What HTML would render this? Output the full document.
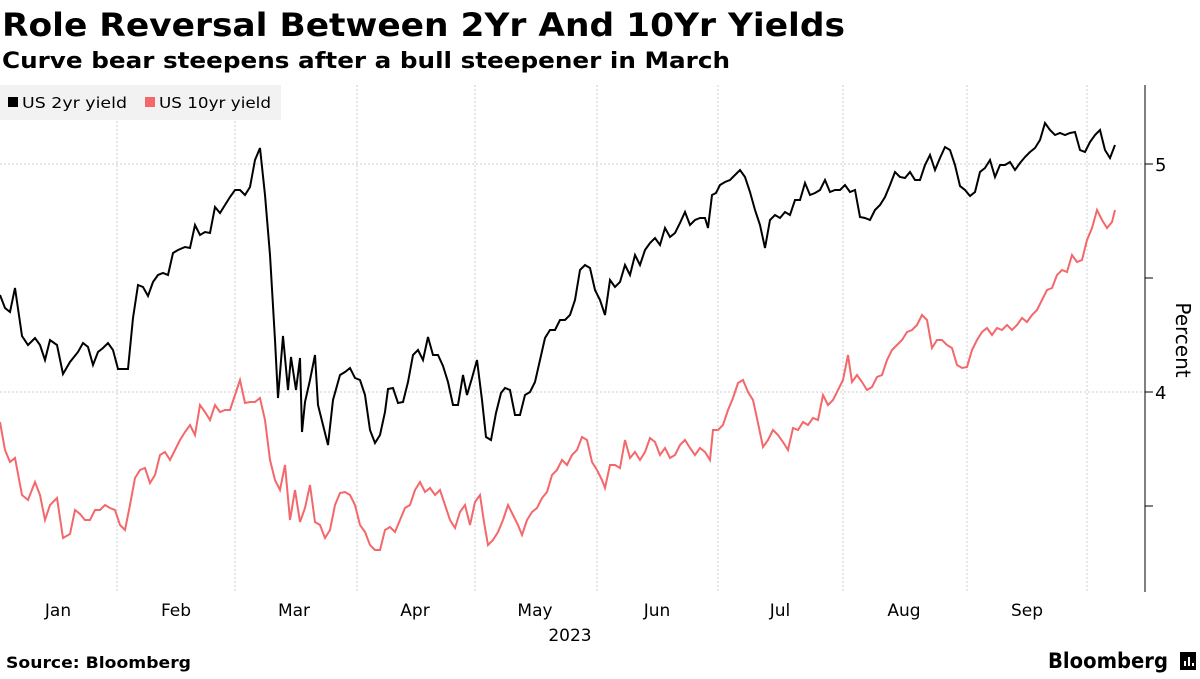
<!DOCTYPE html>
<html><head><meta charset="utf-8"><style>
body{margin:0;background:#fff;width:1200px;height:675px;overflow:hidden;font-family:"DejaVu Sans",sans-serif}
</style></head><body>
<svg width="1200" height="675" xmlns="http://www.w3.org/2000/svg" font-family="DejaVu Sans, sans-serif">
<text x="2" y="36" font-size="32" font-weight="bold" fill="#000" textLength="843" lengthAdjust="spacingAndGlyphs">Role Reversal Between 2Yr And 10Yr Yields</text>
<text x="2" y="68" font-size="22" font-weight="bold" fill="#000" textLength="728" lengthAdjust="spacingAndGlyphs">Curve bear steepens after a bull steepener in March</text>
<g stroke="#ccc" stroke-dasharray="2,2" stroke-width="1">
<line x1="0" y1="164" x2="1145" y2="164"/><line x1="0" y1="392" x2="1145" y2="392"/>
<line x1="117" y1="85" x2="117" y2="592"/><line x1="235" y1="85" x2="235" y2="592"/><line x1="357" y1="85" x2="357" y2="592"/><line x1="475" y1="85" x2="475" y2="592"/><line x1="597" y1="85" x2="597" y2="592"/><line x1="718" y1="85" x2="718" y2="592"/><line x1="843" y1="85" x2="843" y2="592"/><line x1="967" y1="85" x2="967" y2="592"/><line x1="1087" y1="85" x2="1087" y2="592"/>
</g>
<line x1="1145" y1="85" x2="1145" y2="592" stroke="#000"/>
<g stroke="#000"><line x1="1145" y1="164" x2="1153" y2="164"/><line x1="1145" y1="278" x2="1153" y2="278"/><line x1="1145" y1="392" x2="1153" y2="392"/><line x1="1145" y1="506" x2="1153" y2="506"/></g>
<text x="1155" y="171" font-size="18">5</text><text x="1155" y="399" font-size="18">4</text>
<text transform="translate(1176,340) rotate(90)" font-size="20" text-anchor="middle">Percent</text>
<g font-size="17" text-anchor="middle">
<text x="58" y="616">Jan</text><text x="176" y="616">Feb</text><text x="294" y="616">Mar</text><text x="415" y="616">Apr</text><text x="535" y="616">May</text><text x="657" y="616">Jun</text><text x="780" y="616">Jul</text><text x="904" y="616">Aug</text><text x="1027" y="616">Sep</text>
<text x="570" y="641">2023</text></g>
<rect x="0" y="85" width="281" height="35" fill="#f2f2f2"/>
<rect x="8" y="97" width="10" height="10" fill="#000"/><text x="22" y="108" font-size="15" textLength="105" lengthAdjust="spacingAndGlyphs">US 2yr yield</text>
<rect x="145" y="97" width="10" height="10" fill="#f4676a"/><text x="159" y="108" font-size="15" textLength="112" lengthAdjust="spacingAndGlyphs">US 10yr yield</text>
<polyline fill="none" stroke="#f4676a" stroke-width="2" points="0,422 5,450 10,462 15,458 22,495 28,500 35,482 40,495 45,520 50,505 57,498 63,538 70,534 75,510 80,514 85,520 90,520 95,510 100,510 105,505 110,508 115,510 120,525 125,530 130,505 135,478 140,470 145,468 150,483 155,475 160,455 165,452 170,460 175,450 180,440 185,432 190,425 195,435 200,405 205,412 210,420 215,405 220,412 225,410 230,410 235,395 240,380 245,403 250,402 255,402 260,398 265,420 270,460 275,480 280,490 285,465 290,520 295,490 300,522 305,508 310,485 315,522 320,525 325,538 330,530 335,505 340,493 345,492 350,495 355,505 360,525 365,532 370,545 375,550 380,550 385,530 390,527 395,532 400,520 405,508 410,505 415,490 420,482 425,492 430,488 435,495 440,490 445,505 450,520 455,528 460,512 465,505 470,525 475,502 480,495 484,522 488,545 493,540 498,532 503,520 508,505 513,515 518,525 522,535 527,520 532,512 537,508 542,498 547,492 552,475 557,470 562,460 567,465 572,455 577,450 582,437 587,440 592,462 597,470 602,480 605,488 610,465 615,465 620,468 625,440 630,458 635,452 640,460 645,452 650,438 655,442 660,455 665,448 670,458 675,455 680,445 685,440 690,448 695,455 700,448 705,452 710,460 713,430 718,430 723,425 728,410 733,398 738,383 743,380 748,392 753,400 758,423 763,447 768,440 773,430 778,435 783,442 788,450 793,428 798,430 803,422 808,425 813,418 818,420 823,395 828,405 833,400 838,390 843,380 848,355 852,382 857,375 862,382 867,390 872,387 877,377 882,375 887,360 892,350 897,345 902,340 907,332 912,330 917,325 922,315 927,320 932,348 937,340 942,340 947,345 952,348 957,365 962,368 967,367 972,350 977,340 982,332 987,328 992,335 997,328 1002,330 1007,325 1012,330 1017,325 1022,318 1027,322 1032,315 1037,310 1042,300 1047,290 1052,288 1057,275 1062,270 1067,272 1072,255 1077,262 1082,260 1087,240 1092,228 1097,210 1102,220 1107,228 1112,222 1115,210"/>
<polyline fill="none" stroke="#000" stroke-width="2" points="0,295 5,308 10,312 15,288 22,336 28,345 35,338 40,345 45,360 50,340 57,345 63,374 70,362 78,352 83,343 88,347 93,365 98,352 103,348 108,343 113,350 118,369 128,369 133,318 138,285 143,287 148,296 153,282 158,275 163,273 168,275 173,253 178,250 185,247 190,248 195,225 200,235 205,232 210,233 215,207 220,213 225,205 230,197 235,190 240,190 245,195 250,187 255,160 260,148 265,195 270,255 275,340 278,398 283,336 288,390 291,357 296,390 300,358 302,432 305,402 310,380 315,355 318,405 323,425 328,445 333,400 340,375 345,372 350,368 355,378 360,380 365,395 370,430 375,443 380,435 385,412 388,389 393,388 398,403 403,402 408,382 413,355 418,350 423,360 428,337 433,355 438,355 443,366 448,382 453,405 458,405 463,375 467,395 472,378 477,360 482,400 486,437 491,440 496,413 501,393 505,388 510,390 515,415 520,415 525,395 530,392 535,382 540,360 545,338 550,330 555,330 560,320 565,320 570,315 575,300 580,270 585,265 590,268 595,290 600,300 605,315 610,280 615,287 620,282 625,265 630,275 635,255 640,265 645,250 650,243 655,238 660,245 665,228 670,237 675,233 680,223 685,212 690,225 695,220 700,218 705,218 708,228 712,195 716,193 720,185 725,182 730,180 735,175 740,170 745,177 750,192 755,210 760,225 765,248 770,220 775,215 780,218 785,212 790,215 795,200 800,200 805,183 810,195 815,193 820,190 825,180 830,192 835,190 840,190 845,185 850,192 855,190 860,217 865,218 870,220 875,210 880,205 885,197 890,185 895,172 900,177 905,178 910,172 915,180 920,180 925,165 930,155 935,170 940,158 945,147 950,150 955,165 960,186 965,190 970,196 975,192 980,172 985,168 990,160 995,177 1000,165 1005,165 1010,162 1015,170 1020,163 1025,157 1030,152 1035,148 1040,140 1045,123 1050,130 1055,135 1060,133 1065,135 1070,133 1075,132 1080,150 1085,152 1090,142 1095,135 1100,130 1105,150 1110,158 1115,145"/>
<text x="6" y="668" font-size="16" font-weight="bold" textLength="185" lengthAdjust="spacingAndGlyphs">Source: Bloomberg</text>
<text x="1048" y="668" font-size="21" font-weight="bold" textLength="120" lengthAdjust="spacingAndGlyphs">Bloomberg</text>
<rect x="1180" y="652" width="16" height="18" fill="#000"/>
<g stroke="#fff" stroke-width="2"><line x1="1185" y1="666" x2="1185" y2="661"/><line x1="1189" y1="666" x2="1189" y2="657"/><line x1="1193" y1="666" x2="1193" y2="663"/></g>
</svg>
</body></html>
